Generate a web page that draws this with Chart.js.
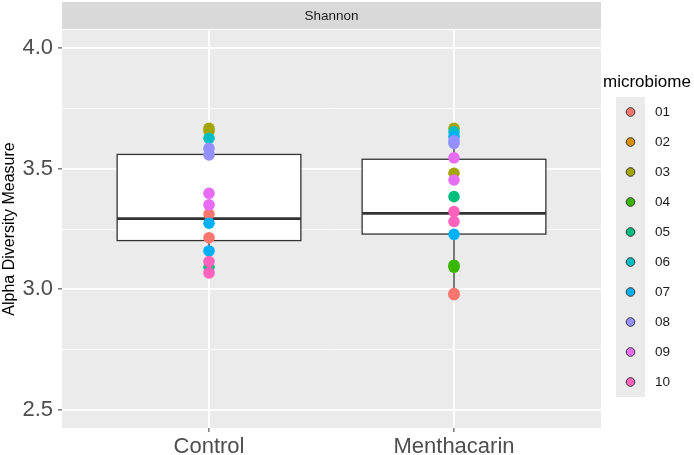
<!DOCTYPE html>
<html>
<head>
<meta charset="utf-8">
<script src="https://cdn.jsdelivr.net/npm/chart.js@4.4.0/dist/chart.umd.min.js"></script>
<style>
  html, body { margin: 0; padding: 0; background: #ffffff; }
  #wrap { width: 694px; height: 455px; position: relative; }
</style>
</head>
<body>
<div id="wrap"><canvas id="chart"></canvas></div>
<script>
// Groups on the x axis and the facet label
const groups = ['Control', 'Menthacarin'];
const facetLabel = 'Shannon';

// Microbiome ids and their ggplot hue colours
const microbiomes = ['01', '02', '03', '04', '05', '06', '07', '08', '09', '10'];
const microbiomeColors = ['#F8766D', '#D89000', '#A3A500', '#39B600', '#00BF7D',
                          '#00BFC4', '#00B0F6', '#9590FF', '#E76BF3', '#FF62BC'];

// Shannon index per sample
const controlIds    = ['03', '03', '06', '08', '08', '09', '09', '01', '07', '01', '07', '05', '10', '10'];
const controlValues = [3.667, 3.656, 3.626, 3.584, 3.557, 3.398, 3.350, 3.312, 3.274, 3.214, 3.159, 3.092, 3.115, 3.068];

const menthaIds    = ['03', '06', '07', '08', '08', '09', '03', '09', '05', '10', '10', '07', '04', '04', '01', '01'];
const menthaValues = [3.667, 3.653, 3.633, 3.615, 3.605, 3.545, 3.481, 3.453, 3.384, 3.322, 3.281, 3.228, 3.100, 3.092, 2.983, 2.978];

// Box statistics per group
const whiskerLow  = [3.068, 2.978];
const boxLower    = [3.202, 3.229];
const boxMedian   = [3.293, 3.315];
const boxUpper    = [3.559, 3.539];
const whiskerHigh = [3.667, 3.667];

// Y axis ticks (majors labelled, minors only gridded)
const yTicks = [2.5, 2.75, 3.0, 3.25, 3.5, 3.75, 4.0];

const FONT = '"Liberation Sans", Arial, Helvetica, sans-serif';

// Build one scatter dataset per microbiome
function buildDatasets() {
  return microbiomes.map((id, i) => {
    const pts = [];
    controlIds.forEach((m, k) => { if (m === id) pts.push({ x: 1, y: controlValues[k] }); });
    menthaIds.forEach((m, k) => { if (m === id) pts.push({ x: 2, y: menthaValues[k] }); });
    return {
      label: id,
      data: pts,
      backgroundColor: microbiomeColors[i],
      borderWidth: 0,
      pointRadius: 5.8,
      pointHoverRadius: 5.8,
      order: microbiomes.length - i
    };
  });
}

const isMajor = v => Math.abs(v * 2 - Math.round(v * 2)) < 1e-6;

// Panel background, strip and boxplots
const panelPlugin = {
  id: 'panel',
  beforeDraw(chart) {
    const { ctx, chartArea: a } = chart;
    ctx.save();
    ctx.fillStyle = '#EBEBEB';
    ctx.fillRect(a.left, a.top, a.right - a.left, a.bottom - a.top);
    ctx.fillStyle = '#D9D9D9';
    ctx.fillRect(a.left, 2, a.right - a.left, a.top - 3);
    ctx.fillStyle = '#1A1A1A';
    ctx.font = '13.5px ' + FONT;
    ctx.textAlign = 'center';
    ctx.textBaseline = 'middle';
    ctx.fillText(facetLabel, (a.left + a.right) / 2, (2 + a.top - 1) / 2 + 0.5);
    ctx.restore();
  },
  beforeDatasetsDraw(chart) {
    const { ctx } = chart;
    const xs = chart.scales.x, ys = chart.scales.y;
    ctx.save();
    ctx.strokeStyle = '#333333';
    groups.forEach((g, i) => {
      const cx = xs.getPixelForValue(i + 1);
      const half = xs.getPixelForValue(i + 1.375) - cx;
      const yLo = ys.getPixelForValue(whiskerLow[i]);
      const yQ1 = ys.getPixelForValue(boxLower[i]);
      const yMed = ys.getPixelForValue(boxMedian[i]);
      const yQ3 = ys.getPixelForValue(boxUpper[i]);
      const yHi = ys.getPixelForValue(whiskerHigh[i]);
      ctx.lineWidth = 1.3;
      ctx.beginPath();
      ctx.moveTo(cx, yQ3); ctx.lineTo(cx, yHi);
      ctx.moveTo(cx, yQ1); ctx.lineTo(cx, yLo);
      ctx.stroke();
      ctx.fillStyle = '#FFFFFF';
      ctx.fillRect(cx - half, yQ3, half * 2, yQ1 - yQ3);
      ctx.strokeRect(cx - half, yQ3, half * 2, yQ1 - yQ3);
      ctx.lineWidth = 2.8;
      ctx.beginPath();
      ctx.moveTo(cx - half, yMed); ctx.lineTo(cx + half, yMed);
      ctx.stroke();
    });
    ctx.restore();
  },
  afterDraw(chart) {
    // legend
    const { ctx } = chart;
    ctx.save();
    ctx.fillStyle = '#000000';
    ctx.font = '17px ' + FONT;
    ctx.textAlign = 'left';
    ctx.textBaseline = 'alphabetic';
    ctx.fillText('microbiome', 603, 86.5);
    ctx.fillStyle = '#EBEBEB';
    ctx.fillRect(616, 97, 29, 300);
    ctx.font = '13.5px ' + FONT;
    ctx.textBaseline = 'middle';
    microbiomes.forEach((id, i) => {
      const cy = 112 + 30 * i;
      ctx.beginPath();
      ctx.arc(630.5, cy, 4.3, 0, Math.PI * 2);
      ctx.fillStyle = microbiomeColors[i];
      ctx.fill();
      ctx.lineWidth = 1;
      ctx.strokeStyle = '#333333';
      ctx.stroke();
      ctx.fillStyle = '#1A1A1A';
      ctx.fillText(id, 655, cy + 0.5);
    });
    ctx.restore();
  }
};

new Chart(document.getElementById('chart'), {
  type: 'scatter',
  data: { datasets: buildDatasets() },
  options: {
    responsive: true,
    maintainAspectRatio: false,
    animation: false,
    events: [],
    layout: { padding: { top: 30, right: 93, left: 0, bottom: 0 } },
    plugins: {
      legend: { display: false },
      tooltip: { enabled: false }
    },
    scales: {
      x: {
        type: 'linear',
        min: 0.4,
        max: 2.6,
        afterBuildTicks: scale => { scale.ticks = groups.map((g, i) => ({ value: i + 1 })); },
        afterFit: scale => { scale.height = 27; },
        border: { display: false },
        grid: {
          color: '#FFFFFF',
          lineWidth: 1.8,
          tickLength: 4,
          tickColor: '#333333',
          tickWidth: 1
        },
        ticks: {
          autoSkip: false,
          maxRotation: 0,
          padding: 2,
          color: '#4D4D4D',
          font: { family: FONT, size: 22 },
          callback: v => groups[Math.round(v) - 1]
        }
      },
      y: {
        min: 2.4254,
        max: 4.0746,
        afterBuildTicks: scale => { scale.ticks = yTicks.map(v => ({ value: v })); },
        afterFit: scale => { scale.width = 62; },
        border: { display: false },
        title: {
          display: true,
          text: 'Alpha Diversity Measure',
          color: '#000000',
          font: { family: FONT, size: 16 },
          padding: 0
        },
        grid: {
          color: '#FFFFFF',
          lineWidth: ctx => isMajor(ctx.tick.value) ? 1.8 : 0.9,
          tickLength: 4,
          tickColor: ctx => isMajor(ctx.tick.value) ? '#333333' : 'rgba(0,0,0,0)',
          tickWidth: 1
        },
        ticks: {
          autoSkip: false,
          padding: 5,
          color: '#4D4D4D',
          font: { family: FONT, size: 22 },
          callback: v => isMajor(v) ? v.toFixed(1) : ''
        }
      }
    }
  },
  plugins: [panelPlugin]
});
</script>
</body>
</html>
